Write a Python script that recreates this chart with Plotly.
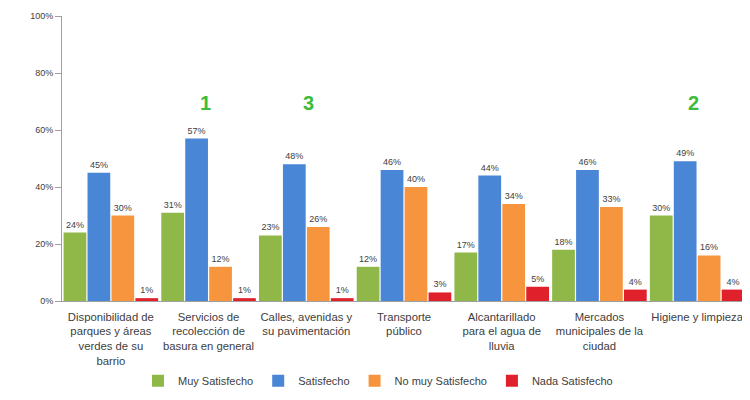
import plotly.graph_objects as go

categories = [
    "Disponibilidad de<br>parques y áreas<br>verdes de su<br>barrio",
    "Servicios de<br>recolección de<br>basura en general",
    "Calles, avenidas y<br>su pavimentación",
    "Transporte<br>público",
    "Alcantarillado<br>para el agua de<br>lluvia",
    "Mercados<br>municipales de la<br>ciudad",
    "Higiene y limpieza",
]
series_names = ["Muy Satisfecho", "Satisfecho", "No muy Satisfecho", "Nada Satisfecho"]
muy_satisfecho = [24, 31, 23, 12, 17, 18, 30]
satisfecho = [45, 57, 48, 46, 44, 46, 49]
no_muy_satisfecho = [30, 12, 26, 40, 34, 33, 16]
nada_satisfecho = [1, 1, 1, 3, 5, 4, 4]
ranking_labels = ["1", "3", "2"]
ranking_categories = [categories[1], categories[2], categories[6]]

colors = ["#8fb848", "#4a86d6", "#f7953f", "#e0202b"]
values = [muy_satisfecho, satisfecho, no_muy_satisfecho, nada_satisfecho]

fig = go.Figure()
for name, vals, col in zip(series_names, values, colors):
    fig.add_trace(go.Bar(
        x=categories, y=vals, name=name,
        marker=dict(color=col, line=dict(width=0)),
        text=[f"{v}%" for v in vals], textposition="outside",
        textfont=dict(size=9, color="#404040", family="Liberation Sans"),
        cliponaxis=False,
    ))

shifts = [-3, 2, -4]
for lab, cat, sh in zip(ranking_labels, ranking_categories, shifts):
    fig.add_annotation(x=cat, y=69.5, text=f"<b>{lab}</b>", showarrow=False,
                       xshift=sh, font=dict(size=20, color="#3dbb3d", family="Liberation Sans"))

fig.update_layout(
    width=742, height=392,
    margin=dict(l=54, r=4, t=8, b=99),
    paper_bgcolor="white", plot_bgcolor="white",
    barmode="group", bargap=0.02, bargroupgap=0.05,
    font=dict(family="Liberation Sans", size=9, color="#404040"),
    showlegend=True,
    legend=dict(orientation="h", x=0.462, xanchor="center", y=-0.28, yanchor="middle",
                font=dict(size=11, color="#404040"), itemwidth=30, tracegroupgap=0),
)
fig.update_yaxes(range=[0, 100], dtick=20, ticksuffix="%", showgrid=False,
                 showline=True, linecolor="#a0a0a0", linewidth=1,
                 ticks="outside", ticklen=6, tickcolor="#a0a0a0",
                 tickfont=dict(size=9, color="#404040"), zeroline=False,
                 automargin=False)
fig.update_xaxes(showline=True, linecolor="#a0a0a0", linewidth=1, showgrid=False,
                 tickfont=dict(size=11.3, color="#404040"), tickangle=0,
                 ticklabelstandoff=5, automargin=False)

fig.write_html("out.html")
